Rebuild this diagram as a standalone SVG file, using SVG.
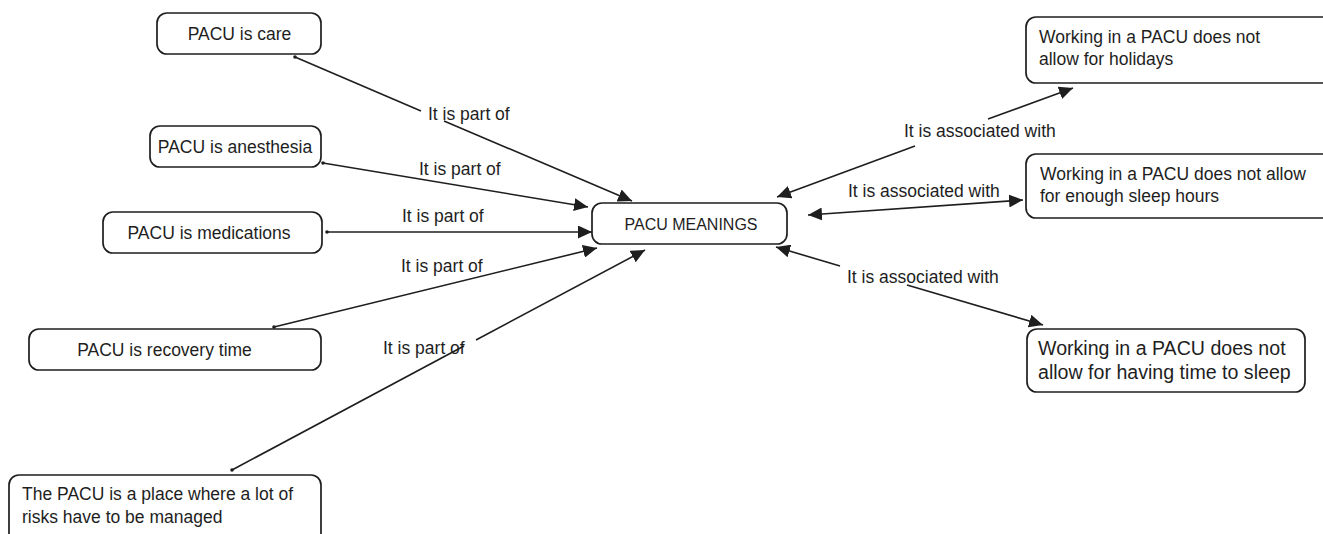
<svg xmlns="http://www.w3.org/2000/svg" width="1323" height="534" viewBox="0 0 1323 534">
<style>
.box{fill:#fff;stroke:#1e1e1e;stroke-width:1.7}
.t{font-family:"Liberation Sans",Arial,sans-serif;font-size:17.5px;fill:#1e1e1e}
.big{font-size:19.6px}
.c{text-anchor:middle}
.ln{fill:none;stroke:#1e1e1e;stroke-width:1.6}
.dot{fill:#1e1e1e}
</style>
<defs>
<marker id="ah" markerUnits="userSpaceOnUse" markerWidth="15" markerHeight="13" refX="14" refY="6.5" orient="auto-start-reverse">
<path d="M0,0 L14,6.5 L0,13 z" fill="#1e1e1e"/>
</marker>
</defs>
<rect width="1323" height="534" fill="#fff"/>
<g id="connectors">
<path class="ln" d="M295,57 L421,111"/>
<path class="ln" d="M444,121 L632,201" marker-end="url(#ah)"/>
<path class="ln" d="M323,163 L588,207" marker-end="url(#ah)"/>
<path class="ln" d="M327,232 L592,232" marker-end="url(#ah)"/>
<path class="ln" d="M274,327 L597,248" marker-end="url(#ah)"/>
<path class="ln" d="M232,470 L464,346"/>
<path class="ln" d="M476,340 L645,250" marker-end="url(#ah)"/>
<path class="ln" d="M915,146 L777,197" marker-end="url(#ah)"/>
<path class="ln" d="M988,119 L1073,88" marker-end="url(#ah)"/>
<path class="ln" d="M808,215 L1023,200" marker-start="url(#ah)" marker-end="url(#ah)"/>
<path class="ln" d="M840,266 L776,247" marker-end="url(#ah)"/>
<path class="ln" d="M907,285 L1043,325" marker-end="url(#ah)"/>
<circle class="dot" cx="295" cy="57" r="1.8"/>
<circle class="dot" cx="323" cy="163" r="1.8"/>
<circle class="dot" cx="327" cy="232" r="1.8"/>
<circle class="dot" cx="274" cy="327" r="1.8"/>
<circle class="dot" cx="232" cy="470" r="1.8"/>
<text class="t" x="428" y="120">It is part of</text>
<text class="t" x="419" y="175">It is part of</text>
<text class="t" x="402" y="222">It is part of</text>
<text class="t" x="401" y="272">It is part of</text>
<text class="t" x="383" y="354">It is part of</text>
<text class="t" x="904" y="137">It is associated with</text>
<text class="t" x="848" y="197">It is associated with</text>
<text class="t" x="847" y="283">It is associated with</text>
</g>
<g id="care">
<rect class="box" x="157" y="13" width="164" height="41" rx="10"/>
<text class="t c" x="239.5" y="39.5">PACU is care</text>
</g>
<g id="anesthesia">
<rect class="box" x="150" y="126" width="171" height="41" rx="10"/>
<text class="t c" x="235" y="152.5">PACU is anesthesia</text>
</g>
<g id="medications">
<rect class="box" x="103" y="212" width="219" height="41" rx="10"/>
<text class="t c" x="209" y="238.5">PACU is medications</text>
</g>
<g id="recovery">
<rect class="box" x="29" y="329" width="292" height="41" rx="10"/>
<text class="t c" x="164.5" y="355.5">PACU is recovery time</text>
</g>
<g id="risks">
<rect class="box" x="9" y="475" width="312" height="80" rx="10"/>
<text class="t" x="22" y="500">The PACU is a place where a lot of</text>
<text class="t" x="22" y="523">risks have to be managed</text>
</g>
<g id="meanings">
<rect class="box" x="592" y="203" width="195" height="41" rx="10"/>
<text class="t c" x="691" y="230" style="font-size:16px">PACU MEANINGS</text>
</g>
<g id="holidays">
<rect class="box" x="1026" y="17" width="330" height="66" rx="10"/>
<text class="t" x="1039" y="43">Working in a PACU does not</text>
<text class="t" x="1039" y="65">allow for holidays</text>
</g>
<g id="sleephours">
<rect class="box" x="1026" y="154" width="330" height="64" rx="10"/>
<text class="t" x="1040" y="180">Working in a PACU does not allow</text>
<text class="t" x="1040" y="202">for enough sleep hours</text>
</g>
<g id="timetosleep">
<rect class="box" x="1027" y="329" width="278" height="63" rx="10"/>
<text class="t big" x="1038" y="355">Working in a PACU does not</text>
<text class="t big" x="1038" y="379">allow for having time to sleep</text>
</g>
</svg>
